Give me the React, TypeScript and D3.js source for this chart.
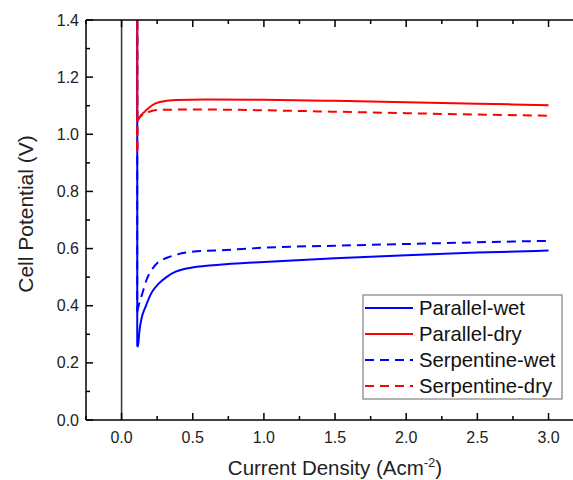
import React from 'react'
import * as d3 from 'd3'

// current density (A/cm2) and cell potential (V)
const pwX = [0.11, 0.11, 0.115, 0.125, 0.14, 0.169, 0.21, 0.262, 0.32, 0.38, 0.497, 0.731, 1.0, 1.5, 2.0, 2.5, 3.0]
const pwY = [1.45, 0.257, 0.257, 0.31, 0.355, 0.397, 0.445, 0.478, 0.502, 0.519, 0.534, 0.545, 0.553, 0.566, 0.577, 0.586, 0.593]

const pdX = [0.11, 0.11, 0.13, 0.169, 0.21, 0.262, 0.38, 0.59, 1.0, 1.5, 2.0, 2.5, 3.0]
const pdY = [1.45, 1.044, 1.062, 1.082, 1.1, 1.112, 1.12, 1.122, 1.121, 1.117, 1.112, 1.107, 1.102]

const swX = [0.11, 0.11, 0.12, 0.146, 0.175, 0.204, 0.262, 0.32, 0.38, 0.497, 0.731, 1.0, 1.5, 2.0, 2.5, 3.0]
const swY = [1.45, 0.38, 0.4, 0.443, 0.49, 0.519, 0.554, 0.568, 0.578, 0.589, 0.595, 0.603, 0.61, 0.616, 0.622, 0.627]

const sdX = [0.11, 0.11, 0.112, 0.145, 0.2, 0.262, 0.5, 1.0, 1.5, 2.0, 2.5, 3.0]
const sdY = [1.45, 0.94, 1.05, 1.0675, 1.08, 1.085, 1.087, 1.084, 1.079, 1.074, 1.069, 1.065]

const seriesNames = ['Parallel-wet', 'Parallel-dry', 'Serpentine-wet', 'Serpentine-dry']
const xTicks = [0, 0.5, 1, 1.5, 2, 2.5, 3]
const yTicks = [0, 0.2, 0.4, 0.6, 0.8, 1.0, 1.2, 1.4]

const font = 'Arial, "Liberation Sans", sans-serif'

export default function App() {
  const left = 86, top = 20, bottom = 420, right = 577
  const x = d3.scaleLinear().domain([-0.25, 3.2]).range([left, right])
  const y = d3.scaleLinear().domain([0, 1.4]).range([bottom, top])

  const straight = d3.line<[number, number]>().x(d => x(d[0])).y(d => y(d[1]))
  const smooth = d3.line<[number, number]>().x(d => x(d[0])).y(d => y(d[1])).curve(d3.curveMonotoneX)

  const zip = (a: number[], b: number[]) => a.map((v, i) => [v, b[i]] as [number, number])

  const series = [
    {name: seriesNames[0], pts: zip(pwX, pwY), color: '#0000ff', dash: ''},
    {name: seriesNames[1], pts: zip(pdX, pdY), color: '#ff0000', dash: ''},
    {name: seriesNames[2], pts: zip(swX, swY), color: '#0000ff', dash: '9,6'},
    {name: seriesNames[3], pts: zip(sdX, sdY), color: '#ff0000', dash: '9,6'},
  ]

  const xMinor = d3.range(-0.25, 3.21, 0.25)
  const yMinor = d3.range(0, 1.41, 0.1)

  return (
    <svg width={573} height={480} style={{position: 'absolute', left: 0, top: 0, background: '#fff'}}>
      <defs>
        <clipPath id="plot">
          <rect x={left} y={top} width={right - left} height={bottom - top} />
        </clipPath>
      </defs>

      {/* zero line */}
      <line x1={x(0)} x2={x(0)} y1={top} y2={bottom} stroke="#404040" strokeWidth={1.6} />

      <g clipPath="url(#plot)">
        {series.map(s => (
          <g key={s.name}>
            {/* vertical drop, then the smooth polarisation curve */}
            <path d={straight(s.pts.slice(0, 2)) || ''} fill="none" stroke={s.color}
                  strokeWidth={2} strokeDasharray={s.dash} />
            <path d={smooth(s.pts.slice(1)) || ''} fill="none" stroke={s.color}
                  strokeWidth={2} strokeDasharray={s.dash} />
          </g>
        ))}
      </g>

      {/* frame */}
      <line x1={left} x2={right} y1={bottom} y2={bottom} stroke="#000" strokeWidth={1.5} />
      <line x1={left} x2={right} y1={top} y2={top} stroke="#000" strokeWidth={1.5} />
      <line x1={left} x2={left} y1={top} y2={bottom} stroke="#000" strokeWidth={1.5} />

      {/* x ticks */}
      {xMinor.map((t, i) => {
        const major = Math.abs(t * 2 - Math.round(t * 2)) < 1e-6
        const len = major ? 7 : 4
        return (
          <g key={'xt' + i}>
            <line x1={x(t)} x2={x(t)} y1={bottom} y2={bottom - len} stroke="#000" strokeWidth={1.5} />
            <line x1={x(t)} x2={x(t)} y1={top} y2={top + len} stroke="#000" strokeWidth={1.5} />
          </g>
        )
      })}
      {xTicks.map(t => (
        <text key={'xl' + t} x={x(t)} y={bottom + 23} textAnchor="middle"
              fontFamily={font} fontSize={16} fill="#222">{d3.format('.1f')(t)}</text>
      ))}

      {/* y ticks */}
      {yMinor.map((t, i) => {
        const major = i % 2 === 0
        const len = major ? 7 : 4
        return (
          <line key={'yt' + i} x1={left} x2={left + len} y1={y(t)} y2={y(t)} stroke="#000" strokeWidth={1.5} />
        )
      })}
      {yTicks.map(t => (
        <text key={'yl' + t} x={left - 7} y={y(t) + 5.5} textAnchor="end"
              fontFamily={font} fontSize={16} fill="#222">{d3.format('.1f')(t)}</text>
      ))}

      {/* axis titles */}
      <text x={335} y={475} textAnchor="middle" fontFamily={font} fontSize={20.5} fill="#222">
        Current Density (Acm<tspan dy={-8} fontSize={13}>-2</tspan><tspan dy={8}>)</tspan>
      </text>
      <text transform={`translate(33,214) rotate(-90)`} textAnchor="middle"
            fontFamily={font} fontSize={21} fill="#222">Cell Potential (V)</text>

      {/* legend */}
      <g>
        <rect x={363} y={295} width={199} height={104} fill="#fff" stroke="#808080" strokeWidth={1.2} />
        {series.map((s, i) => {
          const ly = 308 + i * 26
          return (
            <g key={'lg' + s.name}>
              <line x1={365} x2={413} y1={ly} y2={ly} stroke={s.color} strokeWidth={2} strokeDasharray={s.dash ? '9,6' : ''} />
              <text x={419} y={ly + 7} fontFamily={font} fontSize={20.3} fill="#111">{s.name}</text>
            </g>
          )
        })}
      </g>
    </svg>
  )
}
